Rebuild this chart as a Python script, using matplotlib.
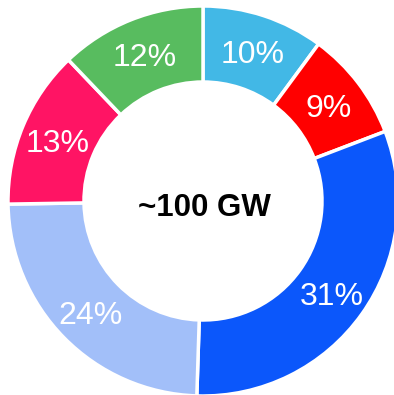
import matplotlib.pyplot as plt

plt.rcParams['font.family'] = ['Liberation Sans', 'DejaVu Sans']

# share of capacity, clockwise from the top
shares = [10, 9, 31, 24, 13, 12]
colors = ['#42b8e6', '#ff0000', '#0b57fb', '#a2bff9', '#ff1464', '#58bc5f']
center_label = '~100 GW'

fig = plt.figure(figsize=(3.94, 3.95), dpi=100)
ax = fig.add_axes([0, 0, 1, 1])

wedges, texts, pcts = ax.pie(shares, colors=colors, startangle=90, counterclock=False,
                             center=(203, 194), radius=195, autopct='%.0f%%', pctdistance=0.81,
                             wedgeprops=dict(width=76, edgecolor='white', linewidth=2.5),
                             textprops=dict(color='white', fontsize=23), frame=True)
# labels sit a little below the ring's mid-line in the original
for t in pcts:
    x, y = t.get_position()
    t.set_position((x, y - 4))

ax.set_xlim(0, 394)
ax.set_ylim(0, 395)
ax.set_aspect('equal')
ax.axis('off')

ax.text(204, 187, center_label, ha='center', va='center', fontsize=22.5, fontweight='bold', color='black')

plt.savefig('out.png', dpi=100)
